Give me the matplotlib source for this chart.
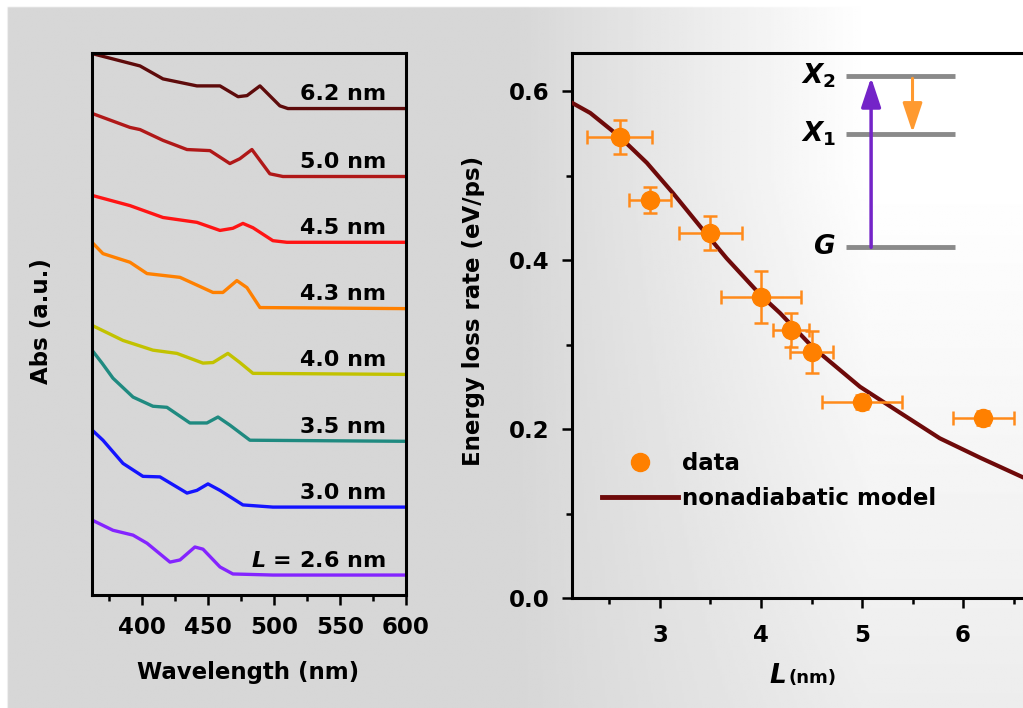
import numpy as np
import matplotlib
matplotlib.use("Agg")
import matplotlib.pyplot as plt
from matplotlib.lines import Line2D

plt.rcParams['font.family'] = ['DejaVu Sans']
plt.rcParams['font.weight'] = 'bold'
plt.rcParams['mathtext.fontset'] = 'custom'
plt.rcParams['mathtext.it'] = 'DejaVu Sans:italic:bold'
plt.rcParams['mathtext.rm'] = 'DejaVu Sans:bold'
plt.rcParams['mathtext.bf'] = 'DejaVu Sans:bold'

# --- left panel: absorption spectra (offset, a.u.) ---
spec_labels = ['6.2 nm', '5.0 nm', '4.5 nm', '4.3 nm', '4.0 nm', '3.5 nm', '3.0 nm', '$L$ = 2.6 nm']
spec_colors = ['#5e0b0b', '#b01818', '#ff1414', '#ff8000', '#c2c200', '#1f8a80', '#1414ff', '#8424ff']

wl_62 = [362, 398.4, 415.8, 441.5, 459, 472.7, 479.5, 489.3, 504.4, 510.5, 600]
abs_62 = [10.04, 9.81, 9.57, 9.44, 9.44, 9.24, 9.26, 9.44, 9.07, 9.02, 9.02]
wl_50 = [362, 390.8, 398.4, 415.8, 434, 451.4, 466.5, 474.1, 483.2, 496.8, 506.7, 600]
abs_50 = [8.93, 8.67, 8.63, 8.43, 8.26, 8.24, 8.00, 8.09, 8.26, 7.81, 7.76, 7.76]
wl_45 = [362, 390.8, 415.8, 441.5, 459, 468.8, 476.4, 484, 499.1, 509.7, 600]
abs_45 = [7.41, 7.22, 7.00, 6.91, 6.76, 6.80, 6.89, 6.81, 6.57, 6.54, 6.54]
wl_43 = [362, 370.3, 390.8, 403.7, 428.7, 453.7, 461.2, 471.8, 479.4, 489.3, 600]
abs_43 = [6.54, 6.33, 6.17, 5.96, 5.89, 5.61, 5.61, 5.83, 5.70, 5.33, 5.31]
wl_40 = [362, 385.5, 408.2, 426.4, 446.1, 453.7, 465, 474.1, 484, 600]
abs_40 = [5.00, 4.72, 4.54, 4.48, 4.30, 4.31, 4.48, 4.31, 4.11, 4.09]
wl_35 = [362, 369.6, 377.9, 393.1, 408.2, 418.8, 436.2, 449.1, 457.5, 466.5, 481.7, 600]
abs_35 = [4.54, 4.30, 4.02, 3.67, 3.50, 3.48, 3.19, 3.19, 3.30, 3.15, 2.87, 2.85]
wl_30 = [362, 370.3, 385.5, 400.6, 413.5, 434, 441.5, 449.9, 459, 476.4, 499.1, 600]
abs_30 = [3.06, 2.87, 2.44, 2.20, 2.19, 1.89, 1.94, 2.06, 1.94, 1.67, 1.63, 1.63]
wl_26 = [362, 377.9, 393.1, 403.7, 421.1, 428.7, 440, 446.1, 459, 468.8, 499.1, 600]
abs_26 = [1.39, 1.20, 1.11, 0.96, 0.61, 0.65, 0.89, 0.85, 0.52, 0.39, 0.37, 0.37]

spectra = [(wl_62, abs_62), (wl_50, abs_50), (wl_45, abs_45), (wl_43, abs_43),
           (wl_40, abs_40), (wl_35, abs_35), (wl_30, abs_30), (wl_26, abs_26)]

# --- right panel: energy loss rate vs L ---
L_data = [2.6, 2.9, 3.5, 4.0, 4.3, 4.5, 5.0, 6.2]
E_data = [0.546, 0.471, 0.432, 0.356, 0.317, 0.291, 0.232, 0.213]
L_err = [0.32, 0.21, 0.31, 0.40, 0.18, 0.21, 0.40, 0.30]
E_err = [0.020, 0.015, 0.020, 0.031, 0.020, 0.025, 0.008, 0.008]

L_model = [2.13, 2.31, 2.6, 2.87, 3.13, 3.43, 3.66, 4.0, 4.19, 4.51, 4.98, 5.38, 5.77, 6.17, 6.59, 6.76]
E_model = [0.586, 0.574, 0.546, 0.515, 0.479, 0.435, 0.402, 0.358, 0.337, 0.297, 0.250, 0.219, 0.189, 0.166, 0.143, 0.136]

# energy level sketch
level_names = ['$X_2$', '$X_1$', '$G$']
level_E = [0.618, 0.549, 0.415]

W, H = 1023, 708
fig = plt.figure(figsize=(W / 100, H / 100), dpi=100)
fig.patch.set_facecolor('white')

# grey paper-like backdrop, lighter towards upper right
bg = fig.add_axes([0, 0, 1, 1], zorder=-10)
xx, yy = np.meshgrid(np.linspace(0, 1, 400), np.linspace(0, 1, 300))
t = np.clip((xx - 0.5) / 0.35, 0, 1) * np.clip(1.15 - yy * 0.6, 0, 1)
grad = 0.84 + 0.16 * t
grad[:, :3] = 1.0
grad[:3, :] = 1.0
bg.imshow(grad, extent=[0, 1, 0, 1], aspect='auto', cmap='gray', vmin=0, vmax=1, origin='upper')
bg.axis('off')

# ---------- left panel ----------
ax1 = fig.add_axes([92 / W, (H - 595) / H, 314 / W, 542 / H])
ax1.set_facecolor('none')
for (wl, ab), col, lab in zip(spectra, spec_colors, spec_labels):
    ax1.plot(wl, ab, color=col, lw=2.4, solid_joinstyle='round', solid_capstyle='butt')
    ax1.annotate(lab, xy=(585, ab[-1]), xytext=(0, 6), textcoords='offset points',
                 ha='right', va='baseline', fontsize=16, fontweight='bold')
ax1.set_xlim(362, 600)
ax1.set_ylim(0, 10.05)
ax1.set_xticks([400, 450, 500, 550, 600])
ax1.set_xticks([375, 425, 475, 525, 575], minor=True)
ax1.set_yticks([])
ax1.tick_params(axis='x', which='major', length=7, width=1.8, pad=8, labelsize=16.5)
ax1.tick_params(axis='x', which='minor', length=4, width=1.8)
for s in ax1.spines.values():
    s.set_linewidth(2.2)
ax1.set_xlabel('Wavelength (nm)', fontsize=16.5, fontweight='bold')
ax1.xaxis.set_label_coords(0.497, -0.122)
ax1.set_ylabel('Abs (a.u.)', fontsize=16.5, fontweight='bold')
ax1.yaxis.set_label_coords(-0.125, 0.505)

# ---------- right panel ----------
ax2 = fig.add_axes([572 / W, (H - 598) / H, 468 / W, 545 / H])
ax2.set_facecolor('none')
ax2.plot(L_model, E_model, color='#6e0a0a', lw=3, zorder=3)
ax2.errorbar(L_data, E_data, xerr=L_err, yerr=E_err, fmt='none', ecolor='#ff8a1a',
             elinewidth=1.8, capsize=5, capthick=1.8, zorder=4)
ax2.plot(L_data, E_data, 'o', color='#ff8000', ms=13, mec='#ff8000', zorder=5)
ax2.set_xlim(2.129, 6.762)
ax2.set_ylim(0, 0.645)
ax2.set_xticks([3, 4, 5, 6])
ax2.set_xticks([2.5, 3.5, 4.5, 5.5, 6.5], minor=True)
ax2.set_yticks([0.0, 0.2, 0.4, 0.6])
ax2.set_yticks([0.1, 0.3, 0.5], minor=True)
ax2.set_yticklabels(['0.0', '0.2', '0.4', '0.6'])
ax2.tick_params(which='major', length=7, width=1.8, labelsize=16.5)
ax2.tick_params(which='minor', length=4, width=1.8)
ax2.tick_params(axis='x', pad=12)
ax2.tick_params(axis='y', pad=9)
ax2.spines['right'].set_visible(False)
for s in ax2.spines.values():
    s.set_linewidth(2.2)
ax2.set_ylabel('Energy loss rate (eV/ps)', fontsize=16.5, fontweight='bold')
ax2.yaxis.set_label_coords(-0.186, 0.527)

# level diagram
for name, e in zip(level_names, level_E):
    ax2.plot([4.84, 5.92], [e, e], color='#8a8a8a', lw=3.5, solid_capstyle='butt', zorder=2)
    ax2.text(4.74, e, name, ha='right', va='center', fontsize=19, fontweight='bold')
ax2.annotate('', xy=(5.09, level_E[0] - 0.002), xytext=(5.09, level_E[2]),
             arrowprops=dict(arrowstyle='-|>,head_width=0.3,head_length=0.9', color='#7424c8',
                             lw=2.5, shrinkA=0, shrinkB=0, mutation_scale=20), zorder=3)
ax2.annotate('', xy=(5.50, level_E[1] + 0.002), xytext=(5.50, level_E[0] - 0.003),
             arrowprops=dict(arrowstyle='-|>,head_width=0.3,head_length=0.9', color='#ff9a30',
                             lw=2.2, shrinkA=0, shrinkB=0, mutation_scale=20), zorder=3)

handles = [Line2D([], [], marker='o', ls='none', color='#ff8000', ms=13),
           Line2D([], [], color='#6e0a0a', lw=3.5)]
ax2.legend(handles, ['data', 'nonadiabatic model'], loc='upper left',
           bbox_to_anchor=(0.045, 0.285), frameon=False, fontsize=16.5,
           handlelength=3.3, handletextpad=0.2, labelspacing=0.55, borderaxespad=0)

# x label "L (nm)"
fig.text(786 / W, 1 - 683 / H, '$L$', ha='right', va='baseline', fontsize=19)
fig.text(789 / W, 1 - 683 / H, '(nm)', ha='left', va='baseline', fontsize=13, fontweight='bold')

fig.savefig('out.png', dpi=100, facecolor=fig.get_facecolor())
